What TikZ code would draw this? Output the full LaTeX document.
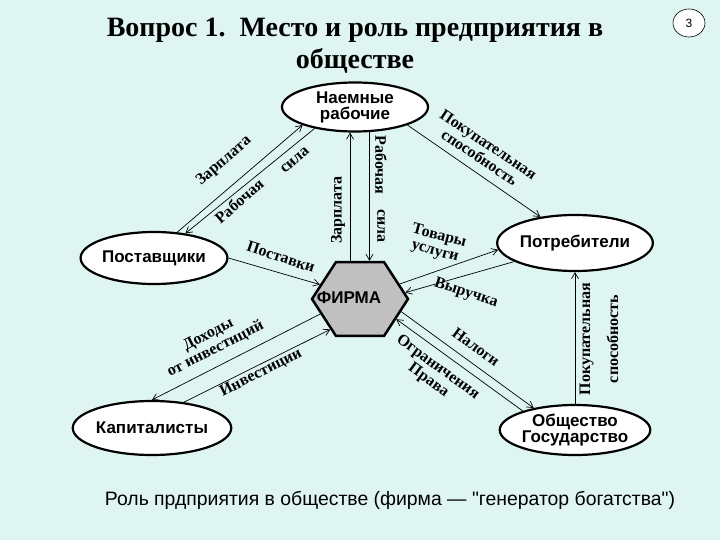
\documentclass[tikz,border=0pt]{standalone}
\usepackage{fontspec}
\setmainfont{Liberation Serif}
\setsansfont{Liberation Sans}
\newfontfamily\capfont{Liberation Sans}[Ligatures=TeXOff]
\usetikzlibrary{arrows.meta, positioning, shapes.geometric, calc}
\definecolor{bgcyan}{RGB}{222,245,242}
\definecolor{firmgray}{RGB}{192,192,192}

\begin{document}
\begin{tikzpicture}[
        x=1pt, y=-1pt,
        party/.style={ellipse, draw, line width=2.2pt, fill=white, minimum width=146pt, minimum height=#1, inner sep=0pt, align=center, font=\sffamily\bfseries\fontsize{17}{16}\selectfont},
        party/.default=50pt,
        firmhex/.style={regular polygon, regular polygon sides=6, draw, line width=2.5pt, fill=firmgray, minimum size=96pt, inner sep=0pt},
        flow/.style={-{Straight Barb[length=6pt,width=7pt]}, line width=0.7pt},
        lbl/.style={font=\bfseries\fontsize{16}{16}\selectfont, inner sep=1pt, align=center}
    ]
        \fill[bgcyan] (0,0) rectangle (720,540);
        \useasboundingbox (0,0) rectangle (720,540);

        % Title and page number
        \node[align=center, font=\bfseries\fontsize{28}{32}\selectfont] (title) at (355,46) {Вопрос 1.\ \ Место и роль предприятия в\\обществе};
        \node[ellipse, draw, line width=0.6pt, fill=white, minimum width=32pt, minimum height=28pt, inner sep=0pt, font=\sffamily\fontsize{12}{12}\selectfont] (pagenum) at (689,23) {3};

        % Parties
        \node[party=49pt] (hired) at (355,107) {Наемные\\рабочие};
        \node[party=52pt] (supp) at (154,258) {Поставщики};
        \node[party=56pt] (cons) at (575,243) {Потребители};
        \node[party=54pt] (cap) at (152,428) {Капиталисты};
        \node[party=50pt] (soc) at (575,430) {Общество\\Государство};

        % Firm
        \node[firmhex, yscale=0.89] (firm) at (360,299) {};
        \node[font=\sffamily\bfseries\fontsize{17}{17}\selectfont] (firmtext) at (349,298) {ФИРМА};

        % Hired <-> suppliers
        \draw[flow] (supp.48) -- (hired.199);
        \draw[flow] (hired.208) -- (supp.38);
        \node[lbl, rotate=41] (wagea) at (224,161) {Зарплата};
        \node[lbl, rotate=41] (labora) at (239,201) {Рабочая};
        \node[lbl, rotate=41] (laborb) at (295,160) {сила};

        % Hired <-> firm
        \draw[flow] (hired.259 |- firm.north) -- (hired.259);
        \draw[flow] (hired.300) -- (hired.300 |- firm.north);
        \node[lbl, rotate=90] (wageb) at (338,210) {Зарплата};
        \node[lbl, rotate=-90] (laborc) at (381,165) {Рабочая};
        \node[lbl, rotate=-90] (labord) at (381,226) {сила};

        % Hired -> consumers
        \draw[flow] (hired.341) -- (cons.143);
        \node[lbl, rotate=-34] (powera) at (484,151) {Покупательная\\способность};

        % Suppliers -> firm
        \draw[flow] (supp.east) -- (firm.158);
        \node[lbl, rotate=-18] (deliv) at (281,257) {Поставки};

        % Firm <-> consumers
        \draw[flow] (firm.23) -- (cons.185);
        \draw[flow] (cons.197) -- (firm.9);
        \node[lbl, rotate=-15] (goods) at (437,244) {Товары\\услуги};
        \node[lbl, rotate=-18] (revenue) at (466,293) {Выручка};

        % Firm <-> capitalists
        \draw[flow] (firm.203) -- (cap.90);
        \draw[flow] (cap.39) -- (firm.229);
        \node[lbl, rotate=27] (income) at (212,342) {Доходы\\от инвестиций};
        \node[lbl, rotate=27] (invest) at (261,373) {Инвестиции};

        % Firm <-> society
        \draw[flow] (firm.341) -- (soc.152);
        \draw[flow] (soc.160) -- (firm.328);
        \node[lbl, rotate=-36] (taxes) at (476,347) {Налоги};
        \node[lbl, rotate=-36] (limits) at (433,374) {Ограничения\\Права};

        % Society -> consumers
        \draw[flow] (soc.north) -- (cons.south);
        \node[lbl, rotate=90, font=\bfseries\fontsize{16}{28}\selectfont] (powerb) at (599,339) {Покупательная\\способность};

        % Caption
        \node[font=\capfont\fontsize{19.4}{20}\selectfont] (caption) at (390,500) {Роль прдприятия в обществе (фирма — "генератор богатства")};
    \end{tikzpicture}
\end{document}
